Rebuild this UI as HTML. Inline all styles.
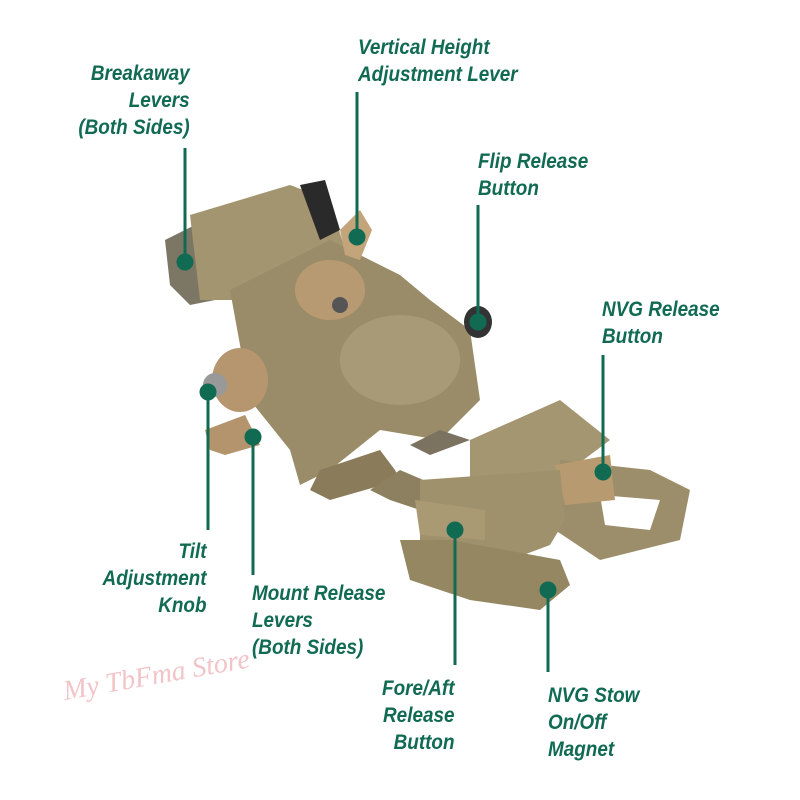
<!DOCTYPE html>
<html><head><style>
html,body{margin:0;padding:0;background:#fff;}
.w{position:relative;width:800px;height:800px;overflow:hidden;background:#fff;}
.t{position:absolute;font-family:"Liberation Sans",sans-serif;font-weight:bold;font-style:italic;color:#116a52;font-size:21px;line-height:27px;white-space:nowrap;transform:scaleX(0.9);transform-origin:left top;}
.r{text-align:right;transform-origin:right top;}
</style></head><body><div class="w">
<svg width="800" height="800" style="position:absolute;left:0;top:0">
<g>
<polygon points="165,240 205,220 215,300 190,305 170,285" fill="#7c7664"/>
<polygon points="190,215 290,185 330,200 345,250 250,300 200,300" fill="#a39570"/>
<polygon points="300,185 325,180 340,230 320,240" fill="#2a2a2a"/>
<polygon points="230,290 330,240 400,275 430,300 470,330 480,400 440,440 380,430 330,470 300,485 290,450 250,400" fill="#9a8c68"/>
<polygon points="310,490 320,470 380,450 395,470 400,480 330,500" fill="#8a7c5a"/>
<ellipse cx="330" cy="290" rx="35" ry="30" fill="#b89a72"/>
<circle cx="340" cy="305" r="8" fill="#555"/>
<polygon points="340,230 360,210 372,230 360,260 345,255" fill="#c4a47a"/>
<ellipse cx="400" cy="360" rx="60" ry="45" fill="#a89a76"/>
<ellipse cx="478" cy="322" rx="14" ry="16" fill="#333"/>
<ellipse cx="240" cy="380" rx="28" ry="32" fill="#b5966e"/>
<circle cx="215" cy="385" r="12" fill="#999"/>
<polygon points="205,430 245,415 260,445 225,455 210,450" fill="#b3946c"/>
<polygon points="370,490 400,470 470,500 470,520 420,510 390,500" fill="#8d8060"/>
<polygon points="410,445 440,430 470,440 430,455" fill="#7c7260"/>
<polygon points="470,440 560,400 610,440 570,470 550,520 470,505" fill="#a39670"/>
<polygon points="560,460 650,470 690,490 680,540 600,560 555,530" fill="#9c8e6a"/>
<polygon points="600,495 660,500 650,530 605,525" fill="#fff"/>
<polygon points="555,465 610,455 615,500 565,505" fill="#b89a70"/>
<polygon points="420,480 560,470 565,520 550,545 510,560 440,560 420,540" fill="#9f916c"/>
<polygon points="400,540 450,540 560,560 570,585 540,610 470,600 410,580" fill="#948761"/>
<polygon points="415,500 485,510 485,540 420,535" fill="#a99a74"/>
</g>
<g stroke="#116a52" stroke-width="3" fill="#116a52">
<line x1="185" y1="148" x2="185" y2="262"/><circle cx="185" cy="262" r="7"/>
<line x1="357" y1="92" x2="357" y2="237"/><circle cx="357" cy="237" r="7"/>
<line x1="478" y1="205" x2="478" y2="322"/><circle cx="478" cy="322" r="7"/>
<line x1="603" y1="355" x2="603" y2="472"/><circle cx="603" cy="472" r="7"/>
<line x1="208" y1="392" x2="208" y2="530"/><circle cx="208" cy="392" r="7"/>
<line x1="253" y1="437" x2="253" y2="575"/><circle cx="253" cy="437" r="7"/>
<line x1="455" y1="530" x2="455" y2="665"/><circle cx="455" cy="530" r="7"/>
<line x1="548" y1="590" x2="548" y2="672"/><circle cx="548" cy="590" r="7"/>
</g>
<text x="65" y="700" transform="rotate(-10 65 700)" font-family="Liberation Serif,serif" font-style="italic" font-size="28" fill="#f2c4c8">My TbFma Store</text>
</svg>
<div class="t r" style="right:610px;top:60px">Breakaway<br>Levers<br>(Both Sides)</div>
<div class="t" style="left:358px;top:34px">Vertical Height<br>Adjustment Lever</div>
<div class="t" style="left:478px;top:148px">Flip Release<br>Button</div>
<div class="t" style="left:602px;top:296px">NVG Release<br>Button</div>
<div class="t r" style="right:594px;top:538px">Tilt<br>Adjustment<br>Knob</div>
<div class="t" style="left:252px;top:580px">Mount Release<br>Levers<br>(Both Sides)</div>
<div class="t r" style="right:346px;top:675px">Fore/Aft<br>Release<br>Button</div>
<div class="t" style="left:548px;top:682px">NVG Stow<br>On/Off<br>Magnet</div>
</div></body></html>
